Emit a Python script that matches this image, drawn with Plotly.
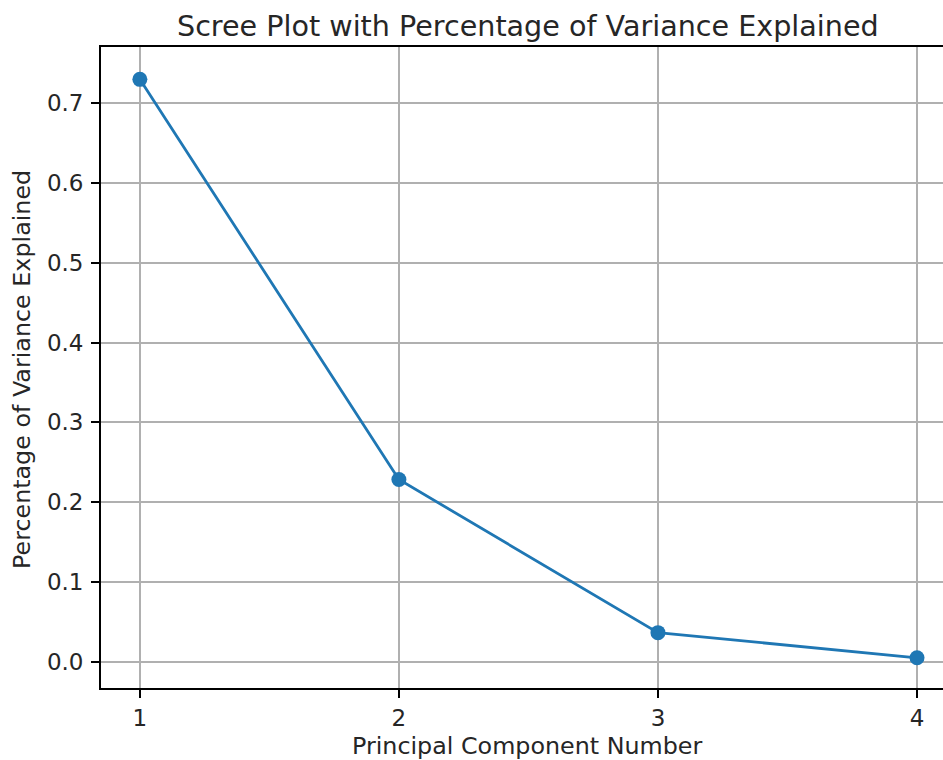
import plotly.graph_objects as go

components = [1, 2, 3, 4]
variance_ratio = [0.7296, 0.2285, 0.0367, 0.0052]
x_ticks = [1, 2, 3, 4]
y_ticks = [0.0, 0.1, 0.2, 0.3, 0.4, 0.5, 0.6, 0.7]

W, H = 943, 760
L, T, B = 101, 47, 72
font = "DejaVu Sans"
txt = "#262626"

fig = go.Figure()
fig.add_trace(go.Scatter(
    x=components, y=variance_ratio, mode="lines+markers",
    line=dict(color="#1f77b4", width=2.8),
    marker=dict(color="#1f77b4", size=15),
    showlegend=False, cliponaxis=False,
))

axis_common = dict(
    showgrid=True, gridcolor="#b0b0b0", gridwidth=1.7,
    showline=True, linecolor="black", linewidth=1.8,
    ticks="outside", ticklen=8, tickwidth=1.8, tickcolor="black",
    zeroline=False, tickfont=dict(size=23, color=txt, family=font),
)

fig.update_layout(
    width=W, height=H,
    margin=dict(l=L, r=0, t=T, b=B),
    plot_bgcolor="white", paper_bgcolor="white",
    font=dict(family=font, size=23, color=txt),
    xaxis=dict(
        range=[0.85, 1 + (W - 140) / 259.0],
        tickvals=x_ticks, ticktext=[str(v) for v in x_ticks],
        mirror=True, **axis_common,
    ),
    yaxis=dict(
        range=[-0.0326, 0.7701],
        tickvals=y_ticks, ticktext=[f"{v:.1f}" for v in y_ticks],
        ticklabelstandoff=3,
        **axis_common,
    ),
    annotations=[
        dict(text="Scree Plot with Percentage of Variance Explained",
             xref="paper", yref="paper", x=(528 - L) / (W - L), y=1 + 21 / (H - T - B),
             xanchor="center", yanchor="middle", showarrow=False,
             font=dict(size=28.6, color=txt, family=font)),
        dict(text="Principal Component Number",
             xref="paper", yref="paper", x=(527 - L) / (W - L), y=-58 / (H - T - B),
             xanchor="center", yanchor="middle", showarrow=False,
             font=dict(size=23.8, color=txt, family=font)),
        dict(text="Percentage of Variance Explained",
             xref="paper", yref="paper", x=-(L - 22) / (W - L), y=(688 - 370) / (H - T - B),
             xanchor="center", yanchor="middle", showarrow=False, textangle=-90,
             font=dict(size=23.8, color=txt, family=font)),
    ],
)

fig.write_html("out.html")
